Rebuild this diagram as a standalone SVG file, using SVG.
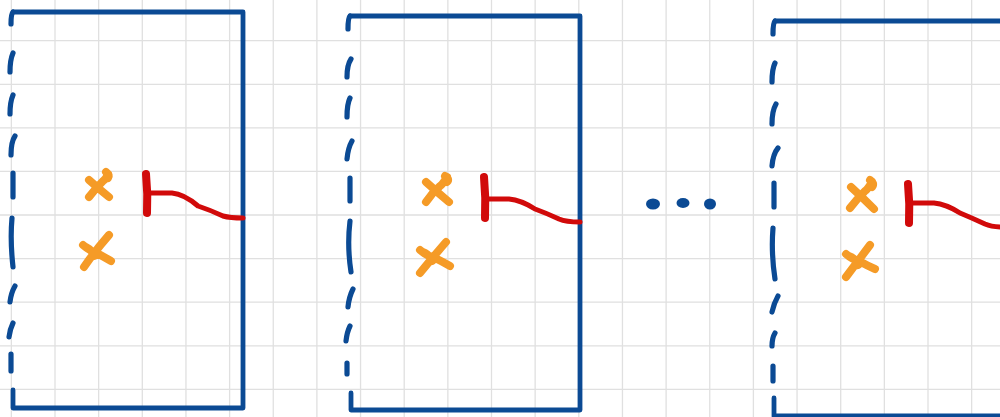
<svg xmlns="http://www.w3.org/2000/svg" width="1000" height="417" viewBox="0 0 1000 417">
<style>
.grid{stroke:#e0e0e0;stroke-width:1.3;fill:none}
.box{stroke:#0b4a94;stroke-width:4.8;fill:none;stroke-linecap:round;stroke-linejoin:round}
.dash{stroke:#0b4a94;stroke-width:5.2;fill:none;stroke-linecap:round}
.x{stroke:#f59b27;stroke-width:8;fill:none;stroke-linecap:round;stroke-linejoin:round}
.bar{stroke:#d10a0a;stroke-width:8;fill:none;stroke-linecap:round}
.wire{stroke:#d10a0a;stroke-width:5;fill:none;stroke-linecap:round;stroke-linejoin:round}
.dot{fill:#0b4a94}
</style>
<rect width="1000" height="417" fill="#ffffff"/>
<g id="grid">
<path class="grid" d="M11.35 0V417M55 0V417M98.65 0V417M142.3 0V417M185.95 0V417M229.6 0V417M273.25 0V417M316.9 0V417M360.55 0V417M404.2 0V417M447.85 0V417M491.5 0V417M535.15 0V417M578.8 0V417M622.45 0V417M666.1 0V417M709.75 0V417M753.4 0V417M797.05 0V417M840.7 0V417M884.35 0V417M928 0V417M971.65 0V417"/>
<path class="grid" d="M0 40.7H1000M0 84.3H1000M0 127.9H1000M0 171.4H1000M0 215H1000M0 258.6H1000M0 302.2H1000M0 345.8H1000M0 389.3H1000"/>
</g>
<g id="panel1">
<path class="box" d="M13 12H243V408H13V390"/>
<path class="dash" d="M13 12Q11 14 11 24M13 53Q10 60 10 72M13 95Q10 102 10 114M15 136Q11 142 11 155M13 173V197M12 218Q10 240 13 267M15 286Q11 293 10 302M13 323Q10 329 9 337M11 354V371"/>
<path class="x" d="M89 180Q99 189 109 197M108 174Q106 179 103 181Q96 188 89 197M106 172Q110 175 108 178"/>
<path class="x" d="M109 235Q95 251 84 267M83 245Q90 251 95 252Q104 257 111 261M86 247Q92 250 94 256"/>
<path class="bar" d="M146 174Q148 194 147 213"/>
<path class="wire" d="M147 193H172Q184 194 198 206Q210 210 223 216Q230 218 243 218"/>
</g>
<g id="panel2">
<path class="box" d="M350 16H580V410H351V393"/>
<path class="dash" d="M350 16Q348 18 348 29M351 59Q347 65 347 77M350 98Q347 104 347 117M352 141Q348 148 347 159M350 178V201M350 221Q347 246 351 272M353 289Q349 297 348 307M350 326Q347 332 346 341M347 363V374"/>
<path class="x" d="M426 182Q437 192 449 202M447 177Q443 184 440 186Q432 193 426 202M445 176Q450 179 447 182"/>
<path class="x" d="M446 242Q433 257 420 273M420 250Q427 256 433 257Q443 262 450 266M423 252Q429 254 432 261"/>
<path class="bar" d="M484 177Q486 198 485 218"/>
<path class="wire" d="M485 199H509Q521 200 535 209Q546 213 559 219Q566 222 580 222"/>
</g>
<g id="ellipsis">
<ellipse class="dot" cx="653" cy="204" rx="7" ry="5.5"/>
<ellipse class="dot" cx="683" cy="203" rx="6.5" ry="5"/>
<ellipse class="dot" cx="710" cy="204" rx="6" ry="5.5"/>
</g>
<g id="panel3">
<path class="box" d="M1003 21H775M775 416H1003M774 398V416"/>
<path class="dash" d="M775 21Q773 23 773 34M775 63Q772 69 772 82M776 104Q772 111 772 124M778 148Q773 154 772 166M774 183V207M773 228Q771 253 775 279M778 296Q774 303 772 312M775 333Q772 338 772 346M773 366V381"/>
<path class="x" d="M851 187Q862 197 874 209M872 182Q868 189 865 191Q857 199 850 208M870 180Q875 183 872 187"/>
<path class="x" d="M870 245Q858 261 846 277M846 254Q853 260 859 261Q868 266 875 269M849 256Q855 258 858 265"/>
<path class="bar" d="M908 184Q910 204 909 223"/>
<path class="wire" d="M909 203H934Q946 204 960 213Q972 218 985 224Q992 227 1003 227"/>
</g>
</svg>
